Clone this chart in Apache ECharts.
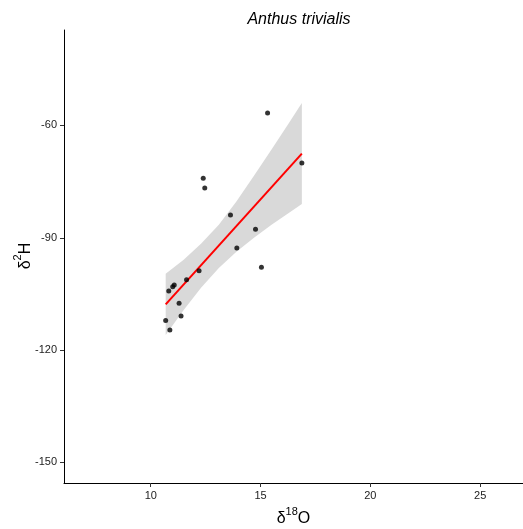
<!DOCTYPE html>
<html>
<head>
<meta charset="utf-8">
<script src="https://cdn.jsdelivr.net/npm/echarts@6/dist/echarts.min.js"></script>
<style>html,body{margin:0;padding:0;background:#fff}#c{width:523px;height:529px}</style>
</head>
<body>
<div id="c"></div>
<script>
// Observed points (δ18O, δ2H)
const pointX = [15.32,16.88,12.39,12.46,13.63,14.77,13.92,15.04,12.20,11.63,11.07,11.00,10.82,11.29,11.38,10.68,10.87];
const pointY = [-56.7,-70.0,-74.1,-76.7,-83.9,-87.7,-92.7,-97.9,-98.8,-101.2,-102.6,-103.1,-104.2,-107.5,-110.9,-112.1,-114.6];
// Fitted line endpoints as read
const fitX = [10.68,16.88];
const fitY = [-107.8,-67.5];
// Confidence band edges as read
const bandX = [10.68,11.5,12.3,13.1,13.9,14.7,15.5,16.3,16.88];
const bandHi = [-99.6,-95.9,-91.5,-86.5,-80.3,-73.4,-66.4,-59.3,-54.0];
const bandLo = [-116.0,-109.3,-103.3,-98.1,-93.7,-90.0,-86.5,-83.3,-81.0];
const xTicks = [10,15,20,25];
const yTicks = [-150,-120,-90,-60];

const chart = echarts.init(document.getElementById('c'), null, {renderer:'canvas'});
const ff = '"Liberation Sans", Arial, sans-serif';
const nameRich = {
  d:{fontFamily:ff, fontSize:16, color:'#000', verticalAlign:'bottom'},
  s:{fontFamily:ff, fontSize:11, color:'#000', padding:[0,0,10,0], verticalAlign:'bottom'},
  o:{fontFamily:ff, fontSize:16, color:'#000', verticalAlign:'bottom'}
};
const option = {
  animation:false,
  backgroundColor:'#fff',
  title:{
    text:'Anthus trivialis', left:294, top:7, textAlign:'center',
    textStyle:{fontFamily:ff, fontStyle:'italic', fontWeight:'normal', fontSize:16, color:'#000'}
  },
  graphic:[{
    type:'text', x:23, y:256, rotation:Math.PI/2,
    style:{text:'{d|δ}{s|2}{o|H}', rich:nameRich, align:'center', verticalAlign:'middle'}
  }],
  grid:{left:64, right:0, top:30, bottom:46, containLabel:false, outerBoundsMode:'none'},
  xAxis:{
    type:'value', min:6.05, max:26.95,
    name:'{d|δ}{s|18}{o|O}', nameLocation:'middle', nameGap:23, nameMoveOverlap:false,
    nameTextStyle:{rich:nameRich},
    axisLine:{onZero:false, lineStyle:{color:'#000', width:1}},
    axisTick:{customValues:xTicks, length:4, lineStyle:{color:'#333'}},
    axisLabel:{customValues:xTicks, margin:7, fontFamily:ff, fontSize:11, color:'#222'},
    splitLine:{show:false}
  },
  yAxis:{
    type:'value', min:-155.5, max:-34.5,
    axisLine:{show:true, onZero:false, lineStyle:{color:'#000', width:1}},
    axisTick:{show:true, customValues:yTicks, length:4, lineStyle:{color:'#333'}},
    axisLabel:{customValues:yTicks, margin:7, fontFamily:ff, fontSize:11, color:'#222'},
    splitLine:{show:false}
  },
  series:[
    {
      type:'custom',
      data: bandX.map((x,i)=>[x, bandLo[i], bandHi[i]]),
      renderItem:function(params, api){
        if (params.dataIndex !== 0) return null;
        const pts = [];
        for (let i=0;i<bandX.length;i++) pts.push(api.coord([bandX[i], bandHi[i]]));
        for (let i=bandX.length-1;i>=0;i--) pts.push(api.coord([bandX[i], bandLo[i]]));
        return {type:'polygon', shape:{points:pts, smooth:0}, style:{fill:'#d9d9d9', stroke:'none'}};
      },
      silent:true, z:1
    },
    {
      type:'line', data: fitX.map((x,i)=>[x, fitY[i]]),
      showSymbol:false, lineStyle:{color:'#ff0000', width:2}, z:3, silent:true
    },
    {
      type:'scatter', data: pointX.map((x,i)=>[x, pointY[i]]),
      symbolSize:5, itemStyle:{color:'#000'}, z:4, silent:true
    }
  ]
};
chart.setOption(option);
</script>
</body>
</html>
